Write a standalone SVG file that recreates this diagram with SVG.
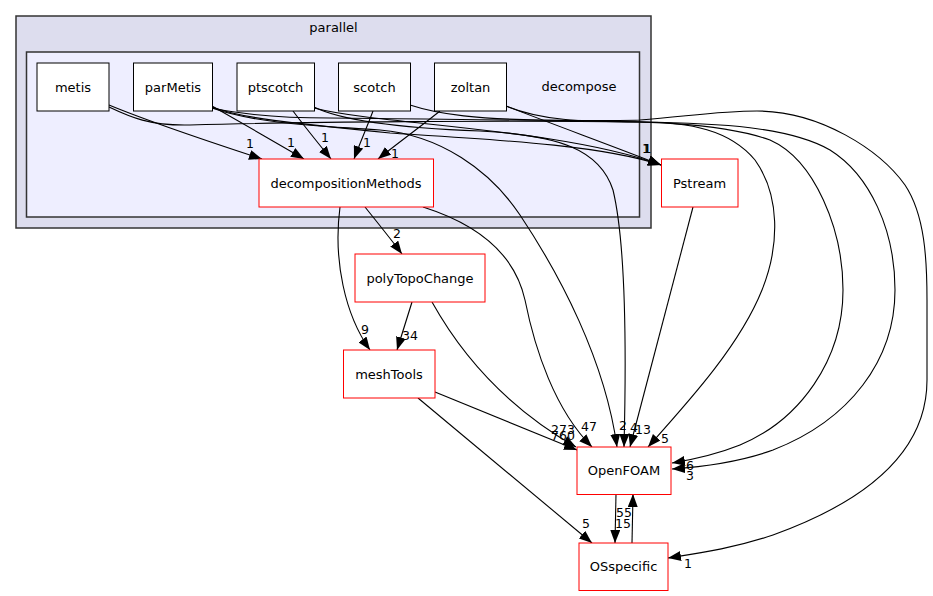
<svg xmlns="http://www.w3.org/2000/svg" width="933" height="596" viewBox="0 0 933 596">
<defs>
<style>
.cl1{fill:#ddddee;stroke:#333;stroke-width:1.5}
.cl2{fill:#eeeeff;stroke:#333;stroke-width:1.5}
.dir{fill:#fff;stroke:#000;stroke-width:1}
.ext{fill:#fff;stroke:#ff0000;stroke-width:1}
.t{font-family:"DejaVu Sans",sans-serif;font-size:13px;fill:#000;text-anchor:middle}
.e{fill:none;stroke:#000;stroke-width:1.1;marker-end:url(#ah)}
.el{font-family:"DejaVu Sans",sans-serif;font-size:12.5px;fill:#000;text-anchor:middle}
</style>
<marker id="ah" markerUnits="userSpaceOnUse" markerWidth="13" markerHeight="10" viewBox="0 0 13 10" refX="13" refY="5" orient="auto">
<path d="M0,0 L13,5 L0,10 z" fill="#000"/>
</marker>
</defs>
<rect width="933" height="596" fill="#fff"/>
<g id="cluster_parallel">
<rect class="cl1" x="16" y="16" width="635" height="212"/>
<text class="t" x="333.5" y="32">parallel</text>
</g>
<g id="cluster_decompose">
<rect class="cl2" x="26.5" y="52" width="613" height="165"/>
<text class="t" x="579" y="91">decompose</text>
</g>
<g id="connectors">
<path class="e" d="M109,105 C150,122 210,142 262,159"/>
<text class="el" x="250" y="148">1</text>
<path class="e" d="M212,106 C240,122 275,142 304,159"/>
<text class="el" x="291" y="147">1</text>
<path class="e" d="M293,111 C305,127 318,143 331,159"/>
<text class="el" x="325" y="142">1</text>
<path class="e" d="M373,111 C367,127 360,143 354,159"/>
<text class="el" x="367" y="147">1</text>
<path class="e" d="M440,111 C420,127 398,143 378,159"/>
<text class="el" x="395" y="158">1</text>
<path class="e" d="M365,207 C377,222 390,238 402,254"/>
<text class="el" x="397" y="238">2</text>
<path class="e" d="M340,207 C333,260 345,315 370,350"/>
<text class="el" x="365" y="334">9</text>
<path class="e" d="M412,302 L397,350"/>
<text class="el" x="410" y="340">34</text>
<path class="e" d="M432,302 C470,370 520,415 576,447"/>
<text class="el" x="563" y="434">273</text>
<path class="e" d="M435,392 L577,450"/>
<text class="el" x="563" y="440">760</text>
<path class="e" d="M418,398 L592,543"/>
<text class="el" x="586" y="528">5</text>
<path class="e" d="M423,207 C480,225 515,255 525,300 C535,350 555,410 592,447"/>
<text class="el" x="589" y="431">47</text>
<path class="e" d="M212,108 C260,125 330,126 380,130 C440,135 490,170 520,215 C560,275 605,360 617,447"/>
<text class="el" x="623" y="430">2</text>
<path class="e" d="M314,107 C340,120 400,128 480,131 C560,135 600,150 613,190 C625,240 627,330 624,447"/>
<text class="el" x="634" y="432">4</text>
<path class="e" d="M693,207 L630,447"/>
<text class="el" x="643" y="434">13</text>
<path class="e" d="M616,494 L615,543"/>
<text class="el" x="624" y="517">55</text>
<path class="e" d="M632,543 L633,494"/>
<text class="el" x="623" y="528">15</text>
<path class="e" d="M506,106 C560,127 610,145 661,165"/>
<path class="e" d="M212,107 C240,118 290,123 390,133 C500,140 600,145 661,165"/>
<path class="e" d="M314,108 C380,125 560,128 661,165"/>
<text class="el" x="646" y="153">1</text>
<text class="el" x="647" y="153">1</text>
<text class="el" x="647.5" y="153">1</text>
<path class="e" d="M506,106 C540,120 580,122 640,122 C690,122 730,130 755,160 C780,195 780,245 762,290 C740,345 690,400 648,447"/>
<text class="el" x="665" y="443">5</text>
<path class="e" d="M410,105 C440,115 480,119 540,120 C640,121 720,122 770,140 C815,160 843,230 843,290 C843,360 800,420 740,445 C715,455 690,460 672,463"/>
<text class="el" x="690" y="470">6</text>
<path class="e" d="M109,107 C130,117 150,126 190,125 C300,122 500,120 640,122 C720,123 790,127 830,150 C870,175 895,230 895,290 C895,360 850,420 773,450 C740,462 700,467 672,469"/>
<text class="el" x="690" y="480">3</text>
<path class="e" d="M212,108 C240,114 280,118 330,118 C450,119 580,122 640,120 C690,116 720,111 757,111 C820,111 880,150 905,185 C925,215 927,260 927,300 L927,380 C927,450 870,500 773,535 C735,548 700,553 668,558"/>
<text class="el" x="688" y="568">1</text>
</g>
<g id="node_metis">
<rect class="dir" x="37" y="63" width="72" height="48"/>
<text class="t" x="73" y="91.5">metis</text>
</g>
<g id="node_parMetis">
<rect class="dir" x="133.5" y="63" width="79" height="48"/>
<text class="t" x="173" y="91.5">parMetis</text>
</g>
<g id="node_ptscotch">
<rect class="dir" x="237" y="63" width="77.5" height="48"/>
<text class="t" x="275.5" y="91.5">ptscotch</text>
</g>
<g id="node_scotch">
<rect class="dir" x="338.5" y="63" width="72" height="48"/>
<text class="t" x="374.5" y="91.5">scotch</text>
</g>
<g id="node_zoltan">
<rect class="dir" x="434.5" y="63" width="72" height="48"/>
<text class="t" x="470.5" y="91.5">zoltan</text>
</g>
<g id="node_decompositionMethods">
<rect class="ext" x="259" y="159" width="174.5" height="48"/>
<text class="t" x="346" y="187.5">decompositionMethods</text>
</g>
<g id="node_Pstream">
<rect class="ext" x="661.5" y="159" width="76.5" height="48"/>
<text class="t" x="699.5" y="187.5">Pstream</text>
</g>
<g id="node_polyTopoChange">
<rect class="ext" x="355" y="254" width="130" height="48"/>
<text class="t" x="420" y="282.5">polyTopoChange</text>
</g>
<g id="node_meshTools">
<rect class="ext" x="343.5" y="350" width="91.5" height="48"/>
<text class="t" x="389" y="378.5">meshTools</text>
</g>
<g id="node_OpenFOAM">
<rect class="ext" x="577" y="447" width="94" height="47.5"/>
<text class="t" x="624" y="475">OpenFOAM</text>
</g>
<g id="node_OSspecific">
<rect class="ext" x="579" y="543" width="89" height="47.5"/>
<text class="t" x="623.5" y="571">OSspecific</text>
</g>
</svg>
